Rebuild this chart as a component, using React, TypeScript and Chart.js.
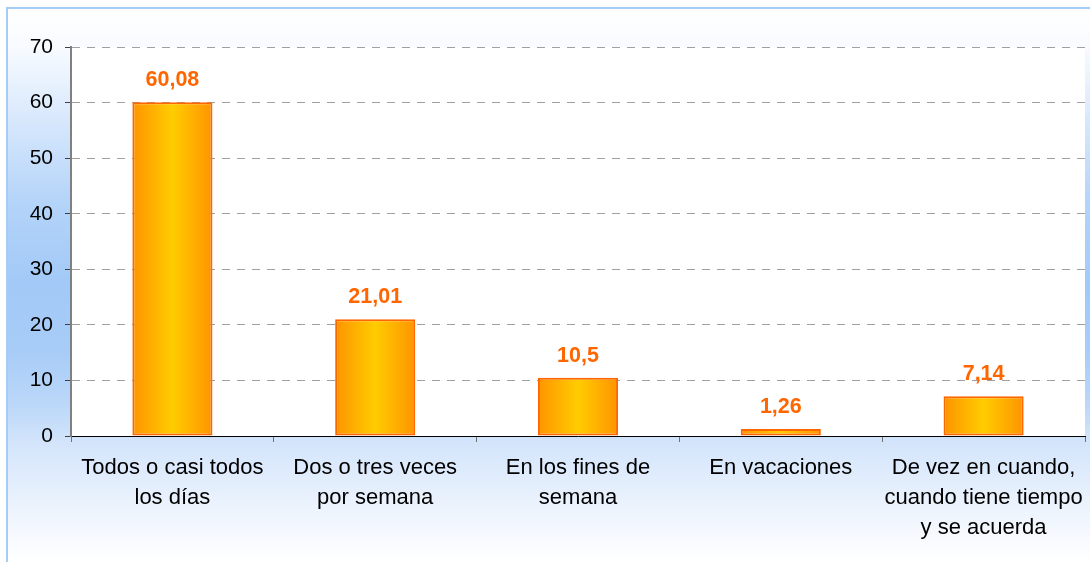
import { useEffect, useRef } from "react";
import { Chart, registerables } from "chart.js";

Chart.register(...registerables);

const categories: string[][] = [
  ["Todos o casi todos", "los días"],
  ["Dos o tres veces", "por semana"],
  ["En los fines de", "semana"],
  ["En vacaciones"],
  ["De vez en cuando,", "cuando tiene tiempo", "y se acuerda"],
];
const values: number[] = [60.08, 21.01, 10.5, 1.26, 7.14];
const valueLabels: string[] = ["60,08", "21,01", "10,5", "1,26", "7,14"];
const yMin = 0;
const yMax = 70;
const yStep = 10;

const FONT = "'Liberation Sans', Arial, sans-serif";

const backgroundPlugin = {
  id: "bgFrame",
  beforeDraw(chart: any) {
    const { ctx, width, height, chartArea } = chart;
    ctx.save();
    ctx.fillStyle = "#ffffff";
    ctx.fillRect(0, 0, width, height);
    const g = ctx.createLinearGradient(0, 8, 0, height);
    g.addColorStop(0, "#ffffff");
    g.addColorStop(0.07, "#f8fbff");
    g.addColorStop(0.2, "#d8e8fc");
    g.addColorStop(0.35, "#b4d4f9");
    g.addColorStop(0.5, "#a2c9f7");
    g.addColorStop(0.62, "#a8ccf7");
    g.addColorStop(0.72, "#bcd8f9");
    g.addColorStop(0.78, "#d2e4fb");
    g.addColorStop(0.9, "#ecf3fd");
    g.addColorStop(1, "#ffffff");
    ctx.fillStyle = g;
    ctx.fillRect(7, 8, width - 7, height - 8);
    ctx.fillStyle = "#a6cdf6";
    ctx.fillRect(6, 7, width - 6, 2);
    ctx.fillRect(6, 7, 2, height - 7);
    ctx.fillStyle = "#ffffff";
    ctx.fillRect(
      chartArea.left,
      chartArea.top,
      chartArea.right - chartArea.left,
      chartArea.bottom - chartArea.top
    );
    ctx.restore();
  },
};

const barGradientPlugin = {
  id: "barGradient",
  beforeDatasetsDraw(chart: any) {
    const { ctx } = chart;
    chart.getSortedVisibleDatasetMetas().forEach((meta: any) => {
      meta.data.forEach((bar: any) => {
        const { x, width } = bar.getProps(["x", "width"], true);
        const g = ctx.createLinearGradient(x - width / 2, 0, x + width / 2, 0);
        g.addColorStop(0, "#ff9400");
        g.addColorStop(0.5, "#ffcc00");
        g.addColorStop(1, "#ff9400");
        bar.options = Object.assign(Object.create(Object.getPrototypeOf(bar.options)), bar.options, {
          backgroundColor: g,
        });
      });
    });
  },
};

const valueLabelPlugin = {
  id: "valueLabels",
  afterDatasetsDraw(chart: any) {
    const { ctx } = chart;
    const meta = chart.getDatasetMeta(0);
    ctx.save();
    ctx.font = `bold 21.5px ${FONT}`;
    ctx.fillStyle = "#ff6600";
    ctx.textAlign = "center";
    ctx.textBaseline = "middle";
    meta.data.forEach((bar: any, i: number) => {
      const { x, y } = bar.getProps(["x", "y"], true);
      ctx.fillText(valueLabels[i], x, y - 22);
    });
    ctx.restore();
  },
};

export default function App() {
  const canvasRef = useRef<HTMLCanvasElement | null>(null);

  useEffect(() => {
    const canvas = canvasRef.current;
    if (!canvas) return;
    const chart = new Chart(canvas, {
      type: "bar",
      data: {
        labels: categories,
        datasets: [
          {
            data: values,
            backgroundColor: () => "#ffb000",
            borderColor: "#ff6600",
            borderWidth: 2,
            borderSkipped: false,
            categoryPercentage: 1,
            barPercentage: 0.395,
          },
        ],
      },
      options: {
        animation: false,
        responsive: false,
        devicePixelRatio: 1,
        layout: { padding: { top: 47, right: 5, bottom: 0, left: 0 } },
        plugins: {
          legend: { display: false },
          tooltip: { enabled: false },
          title: { display: false },
        },
        scales: {
          x: {
            grid: {
              display: true,
              drawOnChartArea: false,
              drawTicks: true,
              tickLength: 6,
              color: "#707070",
              tickColor: "#707070",
              offset: true,
            },
            border: { display: true, color: "#000000", width: 1 },
            ticks: {
              color: "#000000",
              font: { family: FONT, size: 22, lineHeight: 1.36 },
              padding: 11,
              maxRotation: 0,
              autoSkip: false,
            },
            afterFit(scale: any) {
              scale.height = 126;
              scale.paddingLeft = 0;
              scale.paddingRight = 0;
            },
          },
          y: {
            min: yMin,
            max: yMax,
            grid: {
              display: true,
              drawOnChartArea: true,
              drawTicks: true,
              tickLength: 6,
              color: "#a0a0a0",
              tickColor: "#404040",
              tickBorderDash: [],
              lineWidth: 1,
            },
            border: { display: true, color: "#808080", width: 2, dash: [8, 7] },
            ticks: {
              stepSize: yStep,
              color: "#000000",
              font: { family: FONT, size: 21 },
              padding: 12,
            },
            afterFit(scale: any) {
              scale.width = 71;
            },
          },
        },
      },
      plugins: [backgroundPlugin, barGradientPlugin, valueLabelPlugin],
    });
    return () => chart.destroy();
  }, []);

  return (
    <div style={{ position: "fixed", left: 0, top: 0, width: 1090, height: 562 }}>
      <canvas ref={canvasRef} width={1090} height={562} style={{ display: "block" }} />
    </div>
  );
}
